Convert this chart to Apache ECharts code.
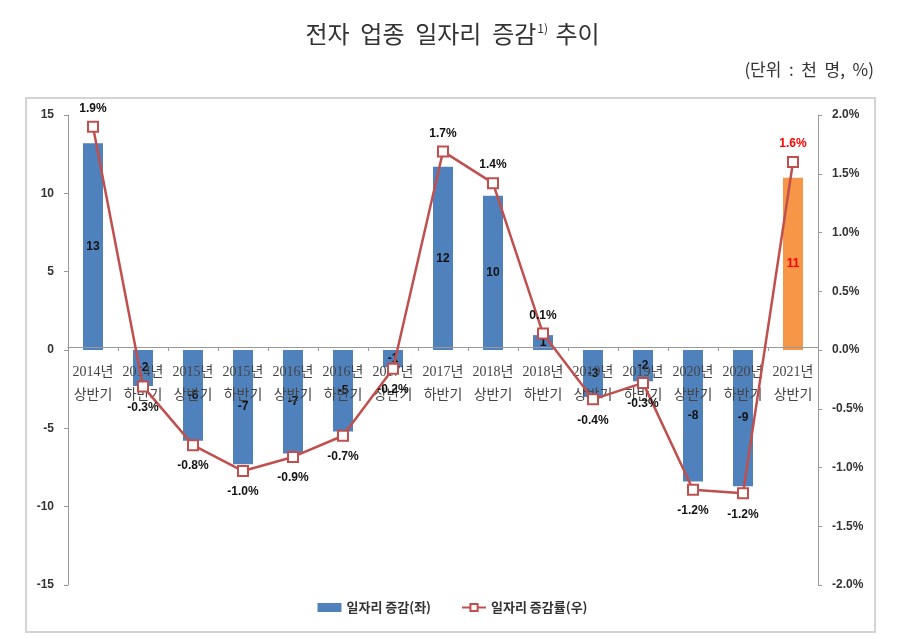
<!DOCTYPE html>
<html>
<head>
<meta charset="utf-8">
<script src="https://cdn.jsdelivr.net/npm/echarts@6/dist/echarts.min.js"></script>
<style>html,body{margin:0;padding:0;background:#fff}#c{width:905px;height:639px}</style>
</head>
<body>
<div id="c"></div>
<script>
const categories = ['2014년\n상반기','2014년\n하반기','2015년\n상반기','2015년\n하반기','2016년\n상반기','2016년\n하반기','2017년\n상반기','2017년\n하반기','2018년\n상반기','2018년\n하반기','2019년\n상반기','2019년\n하반기','2020년\n상반기','2020년\n하반기','2021년\n상반기'];
const jobChange = [13.2, -2.3, -5.8, -7.3, -6.6, -5.2, -1.1, 11.7, 9.85, 0.95, -3.0, -2.0, -8.4, -8.7, 11.0];
const jobRate = [1.90, -0.31, -0.81, -1.03, -0.91, -0.73, -0.16, 1.69, 1.42, 0.14, -0.42, -0.28, -1.19, -1.22, 1.60];
const leftTicks = {min: -15, max: 15, interval: 5};
const rightTicks = {min: -2, max: 2, interval: 0.5};
const seriesNames = ['일자리 증감(좌)', '일자리 증감률(우)'];

const BLUE = '#4F81BD', ORANGE = '#F79646', RED = '#C0504D';
const last = categories.length - 1;
const chart = echarts.init(document.getElementById('c'), null, {renderer: 'canvas'});
const sans = "'Liberation Sans','Noto Sans CJK KR',sans-serif";
const kr = "'Noto Sans CJK KR',sans-serif";
const GRID = {left: 68, right: 87, top: 115, bottom: 54};

chart.setOption({
  animation: false,
  backgroundColor: '#fff',
  graphic: [
    {type: 'rect', shape: {x: 26, y: 98, width: 849, height: 534}, style: {fill: 'none', stroke: '#d4d4d4', lineWidth: 2}, z: -1},
    {type: 'text', left: 'center', top: 22, style: {
      text: '{t|전자  업종  일자리  증감}{s|1)}{t| 추이}',
      rich: {t: {fontSize: 24, fontFamily: kr, fill: '#333'}, s: {fontSize: 12, fontFamily: kr, fill: '#333', verticalAlign: 'top', padding: [0,2,12,1]}}
    }},
    {type: 'text', right: 31, top: 61, style: {text: '(단위  :  천  명,  %)', fontSize: 17, fontFamily: kr, fill: '#333'}}
  ],
  grid: Object.assign({containLabel: false}, GRID),
  legend: {
    bottom: 20, left: 'center', itemGap: 30, itemWidth: 24, itemHeight: 9,
    textStyle: {fontSize: 13, fontFamily: kr, color: '#333', fontWeight: 'bold'},
    data: [{name: seriesNames[0], icon: 'rect'}, {name: seriesNames[1]}]
  },
  xAxis: {
    type: 'category', data: categories, z: 3,
    axisLine: {onZero: false, lineStyle: {color: '#999', width: 1}},
    axisTick: {show: true, alignWithLabel: false, length: 4, lineStyle: {color: '#999'}},
    axisLabel: {interval: 0, fontSize: 14, lineHeight: 23, margin: 14, color: '#444', fontFamily: "'Liberation Serif','Noto Sans CJK KR',serif"}
  },
  yAxis: [
    {type: 'value', min: leftTicks.min, max: leftTicks.max, interval: leftTicks.interval,
     splitLine: {show: false},
     axisLine: {show: true, lineStyle: {color: '#999'}},
     axisTick: {show: true, length: 4, lineStyle: {color: '#999'}},
     axisLabel: {fontSize: 12, color: '#333', fontWeight: 'bold', fontFamily: sans, margin: 14}},
    {type: 'value', min: rightTicks.min, max: rightTicks.max, interval: rightTicks.interval,
     position: 'right', splitLine: {show: false},
     axisLine: {show: true, lineStyle: {color: '#999'}},
     axisTick: {show: true, length: 4, lineStyle: {color: '#999'}},
     axisLabel: {fontSize: 12, color: '#333', fontWeight: 'bold', fontFamily: sans, margin: 14,
       formatter: v => v.toFixed(1) + '%'}}
  ],
  series: [
    {name: seriesNames[0], type: 'bar', yAxisIndex: 0, barWidth: 20, z: 2,
     itemStyle: {color: BLUE},
     data: jobChange.map((v, i) => ({value: v, itemStyle: {color: i === last ? ORANGE : BLUE},
       label: {color: i === last ? '#FF0000' : '#111'}})),
     label: {show: true, position: 'inside', fontSize: 12, fontWeight: 'bold', fontFamily: sans,
       formatter: p => String(Math.round(p.value))}},
    {name: seriesNames[1], type: 'line', yAxisIndex: 1, z: 5,
     symbol: 'rect', symbolSize: 10,
     lineStyle: {color: RED, width: 2.5},
     itemStyle: {color: '#fff', borderColor: RED, borderWidth: 2},
     data: jobRate.map((v, i) => ({value: v,
       label: {position: v >= 0 ? 'top' : 'bottom', distance: v >= 0 ? 6 : 9, color: i === last ? '#FF0000' : '#111'}})),
     label: {show: true, fontSize: 12, fontWeight: 'bold', fontFamily: sans,
       formatter: p => p.value.toFixed(1) + '%'}}
  ]
});
// place the category axis (line, ticks, labels) on the zero line of the left axis
const zeroY = chart.convertToPixel({yAxisIndex: 0}, 0);
const bottomY = 639 - GRID.bottom;
chart.setOption({xAxis: {offset: -(bottomY - zeroY)}});
</script>
</body>
</html>
